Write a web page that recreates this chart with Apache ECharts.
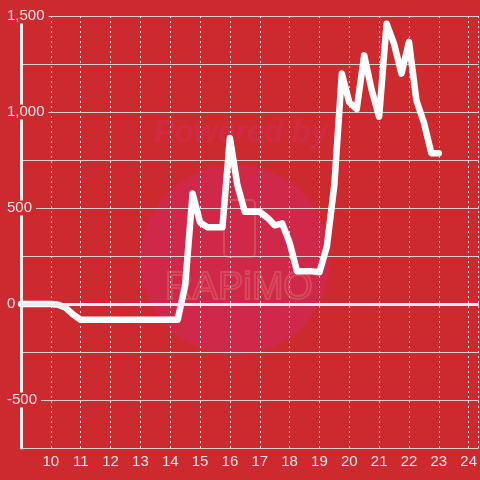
<!DOCTYPE html>
<html>
<head>
<meta charset="utf-8">
<script src="https://cdn.jsdelivr.net/npm/echarts@6/dist/echarts.min.js"></script>
<style>
  html, body { margin: 0; padding: 0; background: #cd2a30; }
  #chart { width: 480px; height: 480px; }
</style>
</head>
<body>
<div id="chart"></div>
<script>
// quarter-hour readings
const hours = [
  9, 9.25, 9.5, 9.75, 10, 10.25, 10.5, 10.75, 11, 11.25, 11.5, 11.75,
  12, 12.25, 12.5, 12.75, 13, 13.25, 13.5, 13.75, 14, 14.25, 14.5, 14.75,
  15, 15.25, 15.5, 15.75, 16, 16.25, 16.5, 16.75, 17, 17.25, 17.5, 17.75,
  18, 18.25, 18.5, 18.75, 19, 19.25, 19.5, 19.75, 20, 20.25, 20.5, 20.75,
  21, 21.25, 21.5, 21.75, 22, 22.25, 22.5, 22.75, 23
];
const values = [
  0, 0, 0, 0, 0, -4, -20, -55, -82, -82, -82, -82,
  -82, -82, -82, -82, -82, -82, -82, -82, -82, -82, 95, 575,
  425, 400, 400, 400, 865, 620, 480, 480, 480, 450, 410, 420,
  320, 170, 170, 170, 165, 300, 620, 1200, 1050, 1015, 1295, 1115,
  975, 1460, 1355, 1200, 1365, 1060, 945, 785, 785
];
const yLabelValues = [-500, 0, 500, 1000, 1500];

const bg = '#cd2a30';
const labelColor = '#f2e4e4';

const chart = echarts.init(document.getElementById('chart'), null, { renderer: 'canvas' });

chart.setOption({
  backgroundColor: bg,
  animation: false,
  textStyle: { fontFamily: 'Liberation Sans' },
  graphic: [
    { type: 'circle', z: -1, shape: { cx: 235, cy: 260, r: 95 }, style: { fill: '#cf2848' } },
    {
      type: 'text', z: -1, x: 241, y: 133,
      style: { text: 'Powered by', fill: '#d22a44', font: 'italic bold 31px Liberation Sans', align: 'center', verticalAlign: 'middle' }
    },
    {
      type: 'rect', z: -1, shape: { x: 224, y: 200, width: 31, height: 57, r: 4 },
      style: { fill: 'none', stroke: '#d8495a', lineWidth: 2 }
    },
    {
      type: 'text', z: -1, x: 239, y: 289,
      style: { text: 'RAPiMO', fill: 'none', stroke: '#d8495a', lineWidth: 2, font: '38px Liberation Sans', align: 'center', verticalAlign: 'middle' }
    }
  ],
  grid: { left: 21, right: 0, top: 16, bottom: 32, containLabel: false },
  xAxis: {
    type: 'value',
    min: 9,
    max: 24.336,
    interval: 1,
    axisLine: { show: false },
    axisTick: { show: false },
    axisLabel: {
      showMinLabel: false,
      showMaxLabel: false,
      color: labelColor,
      fontSize: 15,
      margin: 6,
      formatter: v => (Number.isInteger(v) ? String(v) : '')
    },
    splitLine: { show: true, lineStyle: { color: '#e2e2e2', type: [2, 3], width: 1 } }
  },
  yAxis: {
    type: 'value',
    min: -750,
    max: 1500,
    interval: 250,
    axisLine: { show: true, lineStyle: { color: '#eeeeee', width: 3 } },
    axisTick: { show: false },
    axisLabel: {
      align: 'left',
      margin: 16,
      formatter: v => (yLabelValues.includes(v) ? '{a|' + v.toLocaleString('en-US') + '}' : ''),
      rich: {
        a: { color: labelColor, fontSize: 15, backgroundColor: bg, padding: [0, 4, 0, 2], lineHeight: 16 }
      }
    },
    splitLine: { show: true, lineStyle: { color: '#d2d2d2', width: 1 } }
  },
  series: [{
    type: 'line',
    data: hours.map((h, i) => [h, values[i]]),
    showSymbol: false,
    clip: false,
    lineStyle: { color: '#ffffff', width: 6.5, cap: 'round', join: 'round' },
    markLine: {
      silent: true,
      symbol: 'none',
      label: { show: false },
      lineStyle: { color: '#eeeeee', width: 3, type: 'solid' },
      data: [{ yAxis: 0 }]
    }
  }]
});
</script>
</body>
</html>
